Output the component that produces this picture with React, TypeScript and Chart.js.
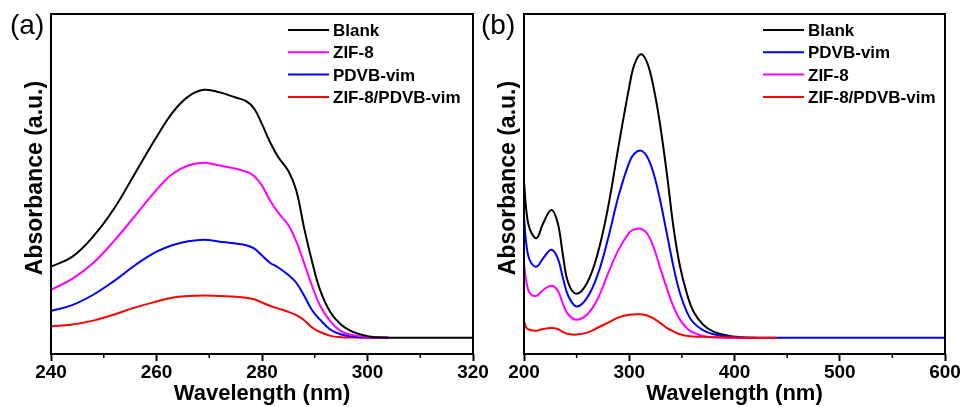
import React, { useEffect, useRef } from "react";
import { Chart, registerables } from "chart.js";

Chart.register(...registerables);

// ---------- Panel (a) data ----------
const aWavelength = [240, 244, 248, 252, 256, 260, 263, 266, 269, 272, 275, 277, 278.5, 280, 281.5, 283, 285, 286.5, 288, 289.5, 291, 293, 295, 297, 300, 304, 310, 320];
const aBlank = [22.0, 25.0, 31.3, 40.0, 51.0, 62.0, 69.5, 74.5, 76.6, 75.8, 74.2, 73.1, 70.8, 66.0, 60.5, 56.0, 51.5, 45.5, 33.8, 23.5, 14.8, 7.8, 4.0, 2.0, 0.5, 0.05, 0, 0];
const aZif8 = [14.8, 18.2, 23.1, 30.0, 37.8, 45.7, 50.6, 53.2, 54.1, 53.2, 52.2, 51.3, 50.0, 47.0, 42.5, 38.8, 34.8, 29.8, 23.0, 16.0, 10.0, 5.0, 2.0, 0.9, 0.2, 0];
const aPdvb = [8.3, 10.1, 13.3, 17.6, 22.5, 26.6, 28.6, 29.8, 30.3, 29.7, 29.1, 28.6, 27.6, 25.4, 23.2, 21.8, 19.4, 17.0, 13.0, 8.5, 5.6, 2.5, 1.0, 0.4, 0.1, 0];
const aZifPdvb = [3.5, 4.1, 5.3, 7.2, 9.4, 11.2, 12.4, 12.9, 13.1, 12.9, 12.7, 12.4, 11.9, 10.9, 9.9, 9.1, 8.0, 7.0, 5.4, 3.2, 1.8, 0.6, 0.2, 0.1, 0, 0];
const aTicks = { min: 240, max: 320, step: 20 };
const aLegend = ["Blank", "ZIF-8", "PDVB-vim", "ZIF-8/PDVB-vim"];

// ---------- Panel (b) data ----------
const bWavelength = [200, 202.5, 206, 212, 218, 226, 232, 237, 242, 250, 260, 270, 280, 290, 300, 305, 311, 317, 323, 329, 336, 342, 348, 355, 361, 370, 380, 393, 405, 420, 440, 600];
const bBlank = [48.3, 38.5, 33.2, 30.8, 35.2, 39.5, 35.5, 25.5, 17.0, 13.6, 17.0, 26.0, 40.5, 59.5, 77.5, 84.5, 87.6, 85.0, 77.5, 66.5, 50.0, 34.2, 22.4, 13.4, 8.1, 4.1, 1.9, 0.7, 0.2, 0];
const bPdvb = [37.5, 28.2, 23.6, 22.0, 24.5, 27.2, 24.6, 18.5, 13.0, 9.7, 12.4, 19.5, 30.8, 44.0, 54.2, 56.9, 57.8, 55.9, 50.9, 43.0, 31.7, 22.0, 14.0, 7.8, 4.7, 2.4, 1.1, 0.4, 0.1, 0, 0, 0];
const bZif8 = [23.1, 16.9, 13.6, 13.0, 14.7, 16.1, 14.6, 10.5, 7.2, 5.6, 7.2, 12.0, 20.0, 27.3, 32.5, 33.5, 33.7, 32.2, 28.1, 22.0, 15.0, 9.6, 5.7, 2.9, 1.6, 0.6, 0.2, 0.05, 0];
const bZifPdvb = [5.0, 3.0, 2.4, 2.2, 2.7, 3.0, 2.7, 1.8, 1.2, 1.0, 1.6, 3.1, 4.7, 6.3, 7.1, 7.2, 7.3, 6.9, 6.0, 4.7, 3.0, 2.0, 1.1, 0.6, 0.4, 0.3, 0.2, 0.1, 0.05, 0, 0];
const bTicks = { min: 200, max: 600, step: 100 };
const bLegend = ["Blank", "PDVB-vim", "ZIF-8", "ZIF-8/PDVB-vim"];

const BLACK = "#000000";
const MAGENTA = "#FF00FF";
const BLUE = "#0000FF";
const RED = "#FF0000";
const FONT = "'Liberation Sans', Arial, sans-serif";

const toPoints = (xs: number[], ys: number[]) => ys.map((y, i) => ({ x: xs[i], y }));

const decorPlugin = {
  id: "decor",
  afterDraw(chart: any, _args: any, opts: any) {
    const { ctx, chartArea } = chart;
    const { left, right, top, bottom } = chartArea;
    const xs = chart.scales.x;
    ctx.save();
    // frame
    ctx.strokeStyle = "#000";
    ctx.lineWidth = 2;
    ctx.strokeRect(left, top, right - left, bottom - top);
    // minor ticks
    ctx.lineWidth = 1.5;
    for (let v = opts.min + opts.step / 2; v < opts.max; v += opts.step) {
      const px = xs.getPixelForValue(v);
      ctx.beginPath();
      ctx.moveTo(px, bottom);
      ctx.lineTo(px, bottom + 4);
      ctx.stroke();
    }
    // y title
    ctx.fillStyle = "#000";
    ctx.font = `bold 23px ${FONT}`;
    ctx.textAlign = "center";
    ctx.textBaseline = "alphabetic";
    ctx.translate(left - 9, 178);
    ctx.rotate(-Math.PI / 2);
    ctx.fillText("Absorbance (a.u.)", 0, 0);
    ctx.setTransform(1, 0, 0, 1, 0, 0);
    // panel label
    ctx.font = `28px ${FONT}`;
    ctx.textAlign = "left";
    ctx.fillText(opts.panel, opts.panelX, 34);
    // legend
    const lx = left + opts.legendOffset;
    ctx.font = `bold 17px ${FONT}`;
    opts.items.forEach((it: any, i: number) => {
      const y = 30 + i * 22.3;
      ctx.strokeStyle = it.color;
      ctx.lineWidth = 2;
      ctx.beginPath();
      ctx.moveTo(lx, y);
      ctx.lineTo(lx + 41, y);
      ctx.stroke();
      ctx.fillStyle = "#000";
      ctx.fillText(it.label, lx + 45, y + 6);
    });
    ctx.restore();
  },
};

function makeConfig(
  datasets: any[],
  ticks: { min: number; max: number; step: number },
  padLeft: number,
  padRight: number,
  panel: string,
  panelX: number,
  legendOffset: number,
  items: any[]
): any {
  return {
    type: "line",
    data: { datasets },
    plugins: [decorPlugin],
    options: {
      animation: false,
      responsive: false,
      events: [],
      layout: { padding: { left: padLeft, right: padRight, top: 14, bottom: 0 } },
      elements: { point: { radius: 0 }, line: { borderWidth: 2, tension: 0.4 } },
      plugins: {
        legend: { display: false },
        tooltip: { enabled: false },
        decor: { panel, panelX, legendOffset, items, min: ticks.min, max: ticks.max, step: ticks.step },
      },
      scales: {
        x: {
          type: "linear",
          min: ticks.min,
          max: ticks.max,
          afterFit: (s: any) => {
            s.height = 53;
          },
          ticks: {
            stepSize: ticks.step,
            color: "#000",
            padding: 0,
            maxRotation: 0,
            font: { family: FONT, size: 19, weight: "bold" },
          },
          grid: {
            display: true,
            drawOnChartArea: false,
            drawTicks: true,
            tickLength: 7,
            tickWidth: 2,
            tickColor: "#000",
          },
          border: { display: false },
          title: {
            display: true,
            text: "Wavelength (nm)",
            color: "#000",
            padding: { top: 0, bottom: 0 },
            font: { family: FONT, size: 22, weight: "bold" },
          },
        },
        y: {
          display: false,
          min: -5,
          max: 100,
        },
      },
    },
  };
}

function Panel(props: { config: any; left: number; width: number }) {
  const ref = useRef<HTMLCanvasElement | null>(null);
  useEffect(() => {
    if (!ref.current) return;
    const chart = new Chart(ref.current, props.config);
    return () => chart.destroy();
  }, []);
  return (
    <canvas
      ref={ref}
      width={props.width}
      height={407}
      style={{ position: "absolute", left: props.left, top: 0, width: props.width, height: 407 }}
    />
  );
}

export default function App() {
  const ds = (label: string, xs: number[], ys: number[], color: string, order: number) => ({
    label,
    data: toPoints(xs, ys),
    borderColor: color,
    backgroundColor: color,
    fill: false,
    order,
  });

  const configA = makeConfig(
    [
      ds(aLegend[0], aWavelength, aBlank, BLACK, 0),
      ds(aLegend[1], aWavelength, aZif8, MAGENTA, 1),
      ds(aLegend[2], aWavelength, aPdvb, BLUE, 2),
      ds(aLegend[3], aWavelength, aZifPdvb, RED, 3),
    ],
    aTicks,
    51,
    27,
    "(a)",
    10,
    237,
    [
      { label: aLegend[0], color: BLACK },
      { label: aLegend[1], color: MAGENTA },
      { label: aLegend[2], color: BLUE },
      { label: aLegend[3], color: RED },
    ]
  );

  const configB = makeConfig(
    [
      ds(bLegend[0], bWavelength, bBlank, BLACK, 3),
      ds(bLegend[1], bWavelength, bPdvb, BLUE, 1),
      ds(bLegend[2], bWavelength, bZif8, MAGENTA, 2),
      ds(bLegend[3], bWavelength, bZifPdvb, RED, 0),
    ],
    bTicks,
    44,
    18,
    "(b)",
    1,
    239,
    [
      { label: bLegend[0], color: BLACK },
      { label: bLegend[1], color: BLUE },
      { label: bLegend[2], color: MAGENTA },
      { label: bLegend[3], color: RED },
    ]
  );

  return (
    <div style={{ position: "fixed", left: 0, top: 0, width: 963, height: 407, background: "#fff", overflow: "hidden" }}>
      <Panel config={configA} left={0} width={500} />
      <Panel config={configB} left={480} width={483} />
    </div>
  );
}
